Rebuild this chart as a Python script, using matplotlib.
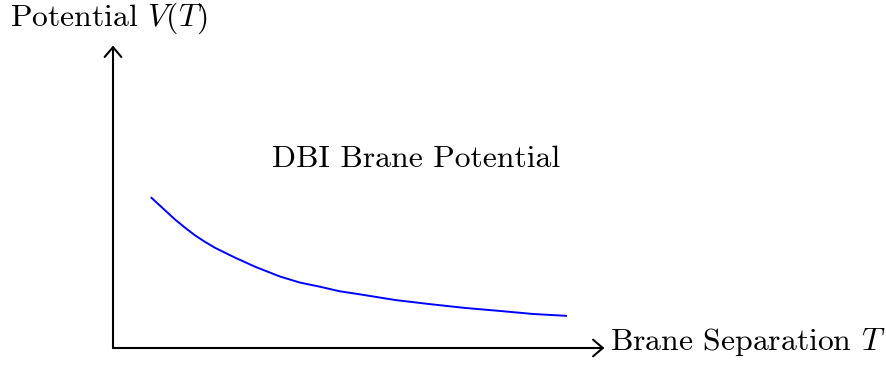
import matplotlib
matplotlib.use("Agg")
import matplotlib.pyplot as plt

# Data (units: cm of the original TikZ drawing)
separation = [1.00, 1.38, 1.64, 1.91, 2.17, 2.43, 2.70, 3.23, 3.76, 4.42, 4.95,
              5.48, 6.00, 6.53, 7.46, 8.39, 9.31, 10.24, 11.11, 12.01]
potential = [3.99, 3.64, 3.40, 3.18, 2.98, 2.81, 2.65, 2.39, 2.15, 1.89, 1.73,
             1.62, 1.50, 1.42, 1.27, 1.16, 1.06, 0.98, 0.90, 0.85]
x_axis_len = 13.0
y_axis_len = 8.0
title_text = "DBI Brane Potential"
xlabel_text = "Brane Separation $T$"
ylabel_text = "Potential $V(T)$"

plt.rcParams['font.family'] = ['cmr10', 'DejaVu Serif']
plt.rcParams['mathtext.fontset'] = 'cm'
plt.rcParams['axes.formatter.use_mathtext'] = True

W, H, dpi = 887, 366, 100
fig = plt.figure(figsize=(W / dpi, H / dpi), dpi=dpi)
ax = fig.add_axes([0, 0, 1, 1])
s = 37.8  # px per cm
ox, oy = 113, 348
ax.set_xlim(-ox / s, (W - ox) / s)
ax.set_ylim(-(H - oy) / s, oy / s)
ax.axis('off')

arrow = dict(arrowstyle='->,head_length=0.35,head_width=0.3', lw=1.5, color='black',
             shrinkA=0, shrinkB=0, mutation_scale=20)
ax.annotate('', xy=(x_axis_len, 0), xytext=(0, 0), arrowprops=arrow)
ax.annotate('', xy=(0, y_axis_len), xytext=(0, 0), arrowprops=arrow)

ax.plot(separation, potential, color='#0000ff', lw=1.4, solid_capstyle='butt',
        solid_joinstyle='round')

fs = 22.8
ax.text((10 - ox) / s, (oy - 26) / s, ylabel_text, fontsize=fs, ha='left', va='baseline')
ax.text((610 - ox) / s, (oy - 350) / s, xlabel_text, fontsize=fs, ha='left', va='baseline')
ax.text((416 - ox) / s, (oy - 167) / s, title_text, fontsize=fs, ha='center', va='baseline')

fig.savefig('out.png', dpi=dpi)
